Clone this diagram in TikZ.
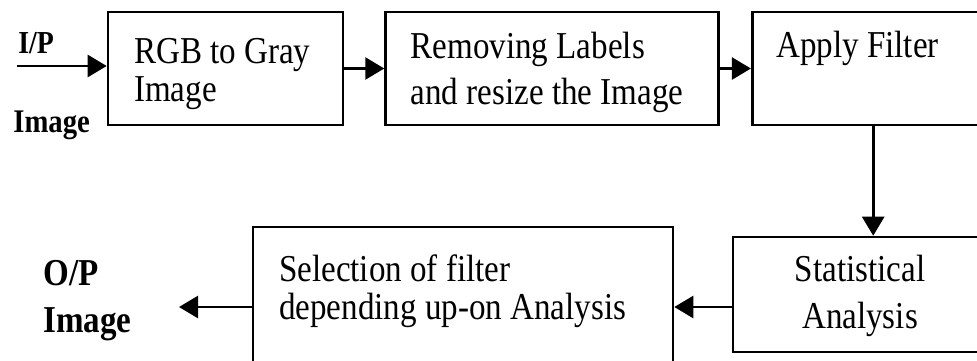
\documentclass[tikz,border=0pt]{standalone}
\usepackage{fontspec}
\setmainfont{Liberation Serif}
\newfontfamily\narrowfont[FakeStretch=0.87]{Liberation Serif}
\usetikzlibrary{positioning}
\usetikzlibrary{calc}
\usetikzlibrary{arrows.meta}

\begin{document}
\begin{tikzpicture}[x=0.5pt, y=-0.5pt,
    box/.style={draw, line width=1.3pt, inner sep=0pt, minimum height=56.5pt},
    txt/.style={inner sep=0pt, align=left, font=\narrowfont\fontsize{19}{19}\selectfont},
    io/.style={inner sep=0pt, align=left, font=\narrowfont\bfseries\fontsize{16}{17}\selectfont},
    arr/.style={-{Triangle[length=9.5pt,width=11pt]}, line width=1.3pt}]
    \fill[white] (0,0) rectangle (977,360);
    \useasboundingbox (0,0) rectangle (977,360);

    \node[box, minimum width=117.5pt] (rgb) at (225.5,68.5) {};
    \node[box, minimum width=166.5pt, right=20pt of rgb] (rem) {};
    \node[box, minimum width=121pt, right=15.5pt of rem] (filt) {};
    \node[box, minimum width=127pt, minimum height=57.5pt] (stat) at (860,294.5) {};
    \node[box, minimum width=210pt, minimum height=79pt] (sel) at (463,306) {};

    % base of a two-line node is its last line
    \node[txt, anchor=base west] (t1) at ($(rgb.north west)+(27,91)$) {RGB to Gray\\Image};
    \node[txt, anchor=base west, font=\narrowfont\fontsize{19}{23}\selectfont] (t2) at ($(rem.north west)+(26,94)$) {Removing Labels\\and resize the Image};
    \node[txt, anchor=base west] (t3) at ($(filt.north west)+(25,47)$) {Apply Filter};
    \node[txt, anchor=base, align=center, font=\narrowfont\fontsize{19}{23.5}\selectfont] (t4) at ($(stat.north)+(0,93)$) {Statistical\\Analysis};
    \node[txt, anchor=base west] (t5) at ($(sel.north west)+(27,94)$) {Selection of filter\\depending up-on Analysis};

    \node[io, anchor=base west] (ip) at (18,53) {I/P};
    \node[io, anchor=base west, font=\narrowfont\bfseries\fontsize{16.5}{17}\selectfont] (ipimg) at (13,132) {Image};
    \node[io, anchor=base west, font=\narrowfont\bfseries\fontsize{19}{23.5}\selectfont] (op) at (43,332) {O/P\\Image};

    \coordinate (in) at (17,66);
    \coordinate (m) at ($(stat.west)+(0,12.5)$);
    \coordinate (out) at (179,307);

    \draw[arr] (in) -- (in -| rgb.west);
    \draw[arr] (rgb) -- (rem);
    \draw[arr] (rem) -- (filt);
    \draw[arr] (filt) -- (filt |- stat.north);
    \draw[arr] (m) -- (m -| sel.east);
    \draw[arr] (out -| sel.west) -- (out);
\end{tikzpicture}
\end{document}
